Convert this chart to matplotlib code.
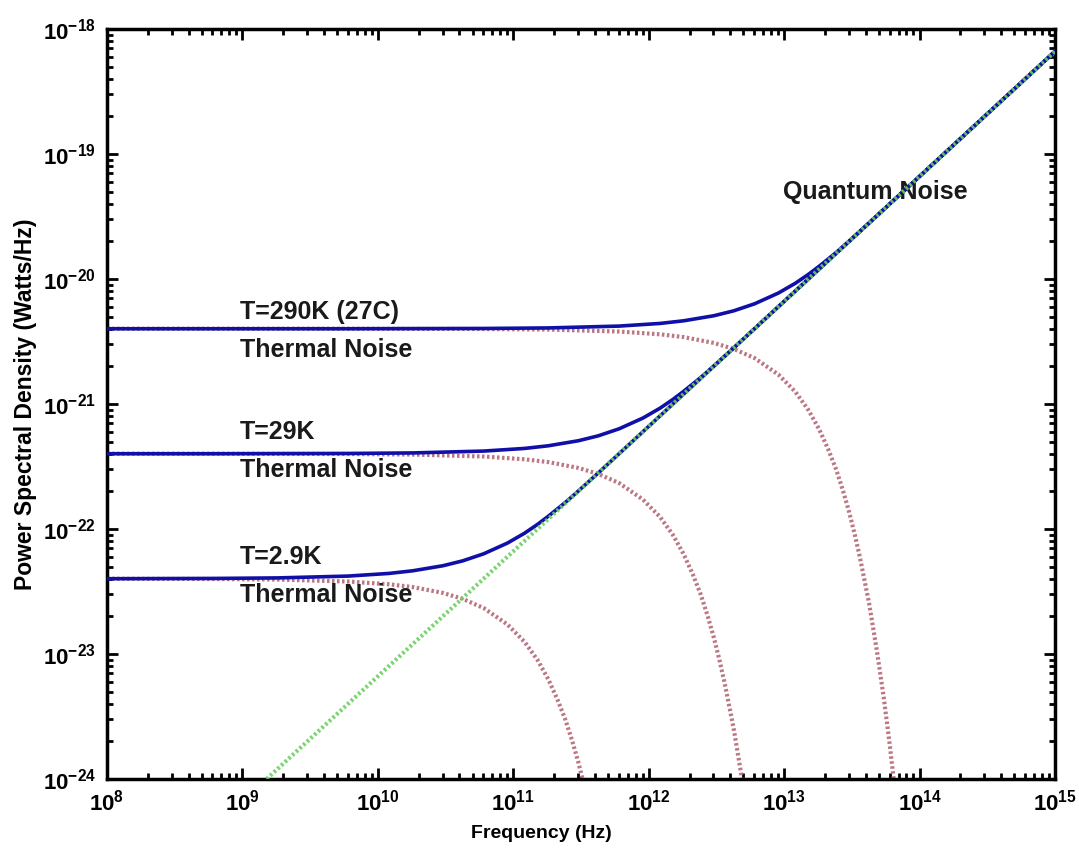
import matplotlib
matplotlib.use("Agg")
import matplotlib.pyplot as plt
from matplotlib.ticker import FixedLocator, NullFormatter, LogFormatterSciNotation

# ---------------- data ----------------
# Quantum noise (straight line)
quantum_freq = [1e8, 1e15]
quantum_psd = [6.63e-26, 6.63e-19]

# T = 2.9 K
freq_2p9K = [1e8, 6.04e8, 1.81e9, 6.04e9, 1.21e10, 1.81e10, 3.02e10, 4.23e10,
             6.04e10, 9.06e10, 1.21e11, 1.51e11, 1.81e11, 2.11e11, 2.42e11,
             2.72e11, 3.02e11, 3.32e11, 3.62e11]
thermal_2p9K = [4.00e-23, 3.98e-23, 3.94e-23, 3.80e-23, 3.61e-23, 3.43e-23, 3.08e-23,
                2.76e-23, 2.33e-23, 1.72e-23, 1.25e-23, 8.94e-24, 6.29e-24, 4.36e-24,
                2.99e-24, 2.02e-24, 1.36e-24, 9.03e-25, 5.96e-25]
total_freq_2p9K = [1e8, 6.04e8, 1.81e9, 6.04e9, 1.21e10, 1.81e10, 3.02e10, 4.23e10,
                   6.04e10, 9.06e10, 1.21e11, 1.51e11, 1.81e11, 2.11e11, 2.42e11,
                   2.72e11, 3.02e11, 3.32e11, 3.62e11, 4.23e11, 4.83e11, 6.04e11,
                   1e12, 1e13, 1e14, 1e15]
total_2p9K = [4.00e-23, 4.02e-23, 4.06e-23, 4.20e-23, 4.41e-23, 4.63e-23, 5.08e-23,
              5.56e-23, 6.33e-23, 7.72e-23, 9.25e-23, 1.089e-22, 1.263e-22, 1.444e-22,
              1.630e-22, 1.820e-22, 2.014e-22, 2.209e-22, 2.406e-22, 2.80e-22, 3.20e-22,
              4.00e-22, 6.63e-22, 6.63e-21, 6.63e-20, 6.63e-19]

# T = 29 K
freq_29K = [1e8, 6.04e8, 6.04e9, 1.81e10, 6.04e10, 1.21e11, 1.81e11, 3.02e11, 4.23e11,
            6.04e11, 9.06e11, 1.21e12, 1.51e12, 1.81e12, 2.11e12, 2.42e12, 2.72e12,
            3.02e12, 3.32e12, 3.62e12, 4.23e12, 4.83e12, 5.44e12]
thermal_29K = [4.00e-22, 4.00e-22, 3.98e-22, 3.94e-22, 3.80e-22, 3.61e-22, 3.43e-22,
               3.08e-22, 2.76e-22, 2.33e-22, 1.72e-22, 1.25e-22, 8.94e-23, 6.29e-23,
               4.36e-23, 2.99e-23, 2.02e-23, 1.36e-23, 9.03e-24, 5.96e-24, 2.56e-24,
               1.07e-24, 4.44e-25]
total_freq_29K = [1e8, 6.04e8, 6.04e9, 1.81e10, 6.04e10, 1.21e11, 1.81e11, 3.02e11,
                  4.23e11, 6.04e11, 9.06e11, 1.21e12, 1.51e12, 1.81e12, 2.11e12,
                  2.42e12, 2.72e12, 3.02e12, 3.32e12, 3.62e12, 4.23e12, 4.83e12,
                  6.04e12, 1e13, 1e14, 1e15]
total_29K = [4.00e-22, 4.00e-22, 4.02e-22, 4.06e-22, 4.20e-22, 4.41e-22, 4.63e-22,
             5.08e-22, 5.56e-22, 6.33e-22, 7.72e-22, 9.25e-22, 1.089e-21, 1.263e-21,
             1.444e-21, 1.630e-21, 1.820e-21, 2.014e-21, 2.209e-21, 2.406e-21,
             2.80e-21, 3.20e-21, 4.00e-21, 6.63e-21, 6.63e-20, 6.63e-19]

# T = 290 K
freq_290K = [1e8, 6.04e9, 6.04e10, 1.81e11, 6.04e11, 1.21e12, 1.81e12, 3.02e12,
             4.23e12, 6.04e12, 9.06e12, 1.21e13, 1.51e13, 1.81e13, 2.11e13, 2.42e13,
             2.72e13, 3.02e13, 3.32e13, 3.62e13, 4.23e13, 4.83e13, 5.44e13, 6.04e13,
             6.64e13, 7.25e13]
thermal_290K = [4.00e-21, 4.00e-21, 3.98e-21, 3.94e-21, 3.80e-21, 3.61e-21, 3.43e-21,
                3.08e-21, 2.76e-21, 2.33e-21, 1.72e-21, 1.25e-21, 8.94e-22, 6.29e-22,
                4.36e-22, 2.99e-22, 2.02e-22, 1.36e-22, 9.03e-23, 5.96e-23, 2.56e-23,
                1.07e-23, 4.44e-24, 1.82e-24, 7.35e-25, 2.95e-25]
total_freq_290K = [1e8, 6.04e9, 6.04e10, 1.81e11, 6.04e11, 1.21e12, 1.81e12, 3.02e12,
                   4.23e12, 6.04e12, 9.06e12, 1.21e13, 1.51e13, 1.81e13, 2.11e13,
                   2.42e13, 2.72e13, 3.02e13, 3.32e13, 3.62e13, 4.23e13, 4.83e13,
                   6.04e13, 1e14, 1e15]
total_290K = [4.00e-21, 4.00e-21, 4.02e-21, 4.06e-21, 4.20e-21, 4.41e-21, 4.63e-21,
              5.08e-21, 5.56e-21, 6.33e-21, 7.72e-21, 9.25e-21, 1.089e-20, 1.263e-20,
              1.444e-20, 1.630e-20, 1.820e-20, 2.014e-20, 2.209e-20, 2.406e-20,
              2.80e-20, 3.20e-20, 4.00e-20, 6.63e-20, 6.63e-19]

x_decades = [8, 9, 10, 11, 12, 13, 14, 15]
y_decades = [-24, -23, -22, -21, -20, -19, -18]

temp_labels = ["T=290K (27C)", "T=29K", "T=2.9K"]
curve_label = "Thermal Noise"
quantum_label = "Quantum Noise"

# ---------------- styling ----------------
plt.rcParams['font.family'] = ['Liberation Sans', 'DejaVu Sans']
plt.rcParams['font.weight'] = 'bold'
plt.rcParams['mathtext.fontset'] = 'custom'
plt.rcParams['mathtext.rm'] = 'Liberation Sans:bold'
plt.rcParams['mathtext.bf'] = 'Liberation Sans:bold'
plt.rcParams['mathtext.it'] = 'Liberation Sans:bold'
plt.rcParams['mathtext.default'] = 'bf'

fig = plt.figure(figsize=(10.79, 8.56), dpi=100)
ax = fig.add_axes([0.0992, 0.09, 0.8786, 0.8761])

blue = '#1010a8'
red = '#b0606e'
green = '#6cd060'

thermal_dots = dict(color=red, lw=3.0, linestyle=(0, (0.6, 0.6)), alpha=0.85)

for f, p in [(freq_290K, thermal_290K), (freq_29K, thermal_29K), (freq_2p9K, thermal_2p9K)]:
    ax.plot(f, p, **thermal_dots, zorder=2)

for f, p in [(total_freq_290K, total_290K), (total_freq_29K, total_29K), (total_freq_2p9K, total_2p9K)]:
    ax.plot(f, p, color=blue, lw=2.6, zorder=3)

ax.plot(quantum_freq, quantum_psd, color=green, lw=3.0, linestyle=(0, (0.6, 0.6)),
        alpha=0.9, zorder=4)

ax.set_xscale('log')
ax.set_yscale('log')
ax.set_xlim(10.0 ** x_decades[0], 10.0 ** x_decades[-1])
ax.set_ylim(10.0 ** y_decades[0], 10.0 ** y_decades[-1])

x_major = [10.0 ** d for d in x_decades]
y_major = [10.0 ** d for d in y_decades]
x_minor = [m * 10.0 ** d for d in x_decades[:-1] for m in range(2, 10)]
y_minor = [m * 10.0 ** d for d in y_decades[:-1] for m in range(2, 10)]
ax.xaxis.set_major_locator(FixedLocator(x_major))
ax.yaxis.set_major_locator(FixedLocator(y_major))
ax.xaxis.set_minor_locator(FixedLocator(x_minor))
ax.yaxis.set_minor_locator(FixedLocator(y_minor))
ax.xaxis.set_major_formatter(LogFormatterSciNotation())
ax.yaxis.set_major_formatter(LogFormatterSciNotation())
ax.xaxis.set_minor_formatter(NullFormatter())
ax.yaxis.set_minor_formatter(NullFormatter())

ax.tick_params(which='both', direction='in', top=True, right=True, width=2.0, color='black')
ax.tick_params(which='major', length=8, labelsize=16, pad=8)
ax.tick_params(which='minor', length=4)
for s in ax.spines.values():
    s.set_linewidth(2.5)

ax.set_xlabel("Frequency (Hz)", fontsize=14, fontweight='bold')
ax.set_ylabel("Power Spectral Density (Watts/Hz)", fontsize=16.5, fontweight='bold')
ax.xaxis.set_label_coords(0.458, -0.061)
ax.yaxis.set_label_coords(-0.074, 0.50)

txt = dict(transform=ax.transAxes, fontsize=18, fontweight='bold', color='#1a1a1a',
           ha='left', va='center')
label_pos = [(0.623, 0.572), (0.463, 0.412), (0.296, 0.245)]
for lab, (yt, yb) in zip(temp_labels, label_pos):
    ax.text(0.140, yt, lab, **txt)
    ax.text(0.140, yb, curve_label, **txt)
ax.text(0.713, 0.783, quantum_label, **txt)

fig.savefig("out.png", dpi=100)
